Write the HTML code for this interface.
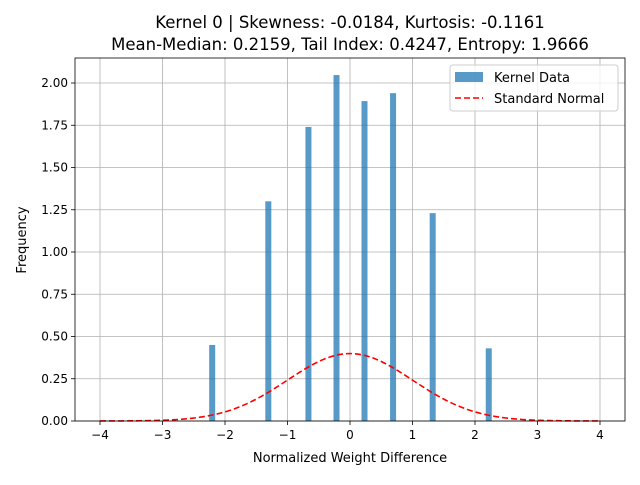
<!DOCTYPE html>
<html><head><meta charset="utf-8"><style>
body{margin:0;background:#fff;font-family:"Liberation Sans","DejaVu Sans",sans-serif}
svg text{font-family:"DejaVu Sans","Liberation Sans",sans-serif}
</style></head><body>
<svg id="chart" width="640" height="480" xmlns="http://www.w3.org/2000/svg">
<rect width="640" height="480" fill="#fff"/>
<text x="350" y="28" font-size="16.5" text-anchor="middle">Kernel 0 | Skewness: -0.0184, Kurtosis: -0.1161</text>
<text x="350" y="50" font-size="16.5" text-anchor="middle">Mean-Median: 0.2159, Tail Index: 0.4247, Entropy: 1.9666</text>
<g id="grid"></g><g id="bars"></g><g id="curve"></g><g id="axes"></g>
<text x="350" y="462" font-size="13" text-anchor="middle">Normalized Weight Difference</text>
<text transform="translate(26,240) rotate(-90)" font-size="13" text-anchor="middle">Frequency</text>
<g>
<rect x="450" y="65" width="168" height="46" rx="3" fill="#fff" fill-opacity="0.8" stroke="#ccc"/>
<rect x="455" y="72" width="28" height="10" fill="#1f77b4" fill-opacity="0.75"/>
<text x="494" y="82" font-size="13">Kernel Data</text>
<line x1="455" y1="98" x2="483" y2="98" stroke="red" stroke-width="1.6" stroke-dasharray="6,3"/>
<text x="494" y="103" font-size="13">Standard Normal</text>
</g>
</svg>
<script>
const binCenters=[-2.205,-1.307,-0.665,-0.216,0.232,0.689,1.323,2.22];
const binHeights=[0.45,1.30,1.74,2.047,1.893,1.94,1.23,0.43];
const binWidth=0.096;
const xTicks=[-4,-3,-2,-1,0,1,2,3,4];
const yTicks=[0,0.25,0.5,0.75,1,1.25,1.5,1.75,2];
const L=75,R=625,T=58,B=421,xmin=-4.4,xmax=4.4,ymax=2.148;
const X=v=>L+(v-xmin)/(xmax-xmin)*(R-L);
const Y=v=>B-v/ymax*(B-T);
const NS="http://www.w3.org/2000/svg";
function mk(tag,attrs,parent){const e=document.createElementNS(NS,tag);for(const k in attrs)e.setAttribute(k,attrs[k]);document.getElementById(parent).appendChild(e);return e;}
xTicks.forEach(t=>{
 const g=mk('line',{x1:X(t),x2:X(t),y1:T,y2:B,stroke:'#b0b0b0','stroke-width':0.8},'grid');
 
 
 const tk=mk('line',{x1:X(t),x2:X(t),y1:B,y2:B+4,stroke:'#000','stroke-width':0.8},'axes');
 
 
 const tx=mk('text',{x:X(t),y:B+18,'font-size':12,'text-anchor':'middle'},'axes');
 tx.textContent=(t<0?'\u2212'+(-t):t);
 
 
});
yTicks.forEach(t=>{
 const g=mk('line',{x1:L,x2:R,y1:Y(t),y2:Y(t),stroke:'#b0b0b0','stroke-width':0.8},'grid');
 
 
 const tk=mk('line',{x1:L-4,x2:L,y1:Y(t),y2:Y(t),stroke:'#000','stroke-width':0.8},'axes');
 
 
 const tx=mk('text',{x:L-7,y:Y(t)+4,'font-size':12,'text-anchor':'end'},'axes');
 tx.textContent=t.toFixed(2);
 
 
});
binCenters.forEach((c,i)=>{
 const r=mk('rect',{x:X(c-binWidth/2),y:Y(binHeights[i]),width:X(c+binWidth/2)-X(c-binWidth/2),height:B-Y(binHeights[i]),fill:'#1f77b4','fill-opacity':0.75},'bars');
 
 
});
let d='';
for(let i=0;i<=200;i++){const x=-4+8*i/200;const y=Math.exp(-x*x/2)/Math.sqrt(2*Math.PI);d+=(i?'L':'M')+X(x).toFixed(2)+','+Y(y).toFixed(2);}
const p=mk('path',{d:d,fill:'none',stroke:'red','stroke-width':1.6,'stroke-dasharray':'6,3'},'curve');


const f=mk('rect',{x:L,y:T,width:R-L,height:B-T,fill:'none',stroke:'#000','stroke-width':0.8},'axes');


</script>
</body></html>
